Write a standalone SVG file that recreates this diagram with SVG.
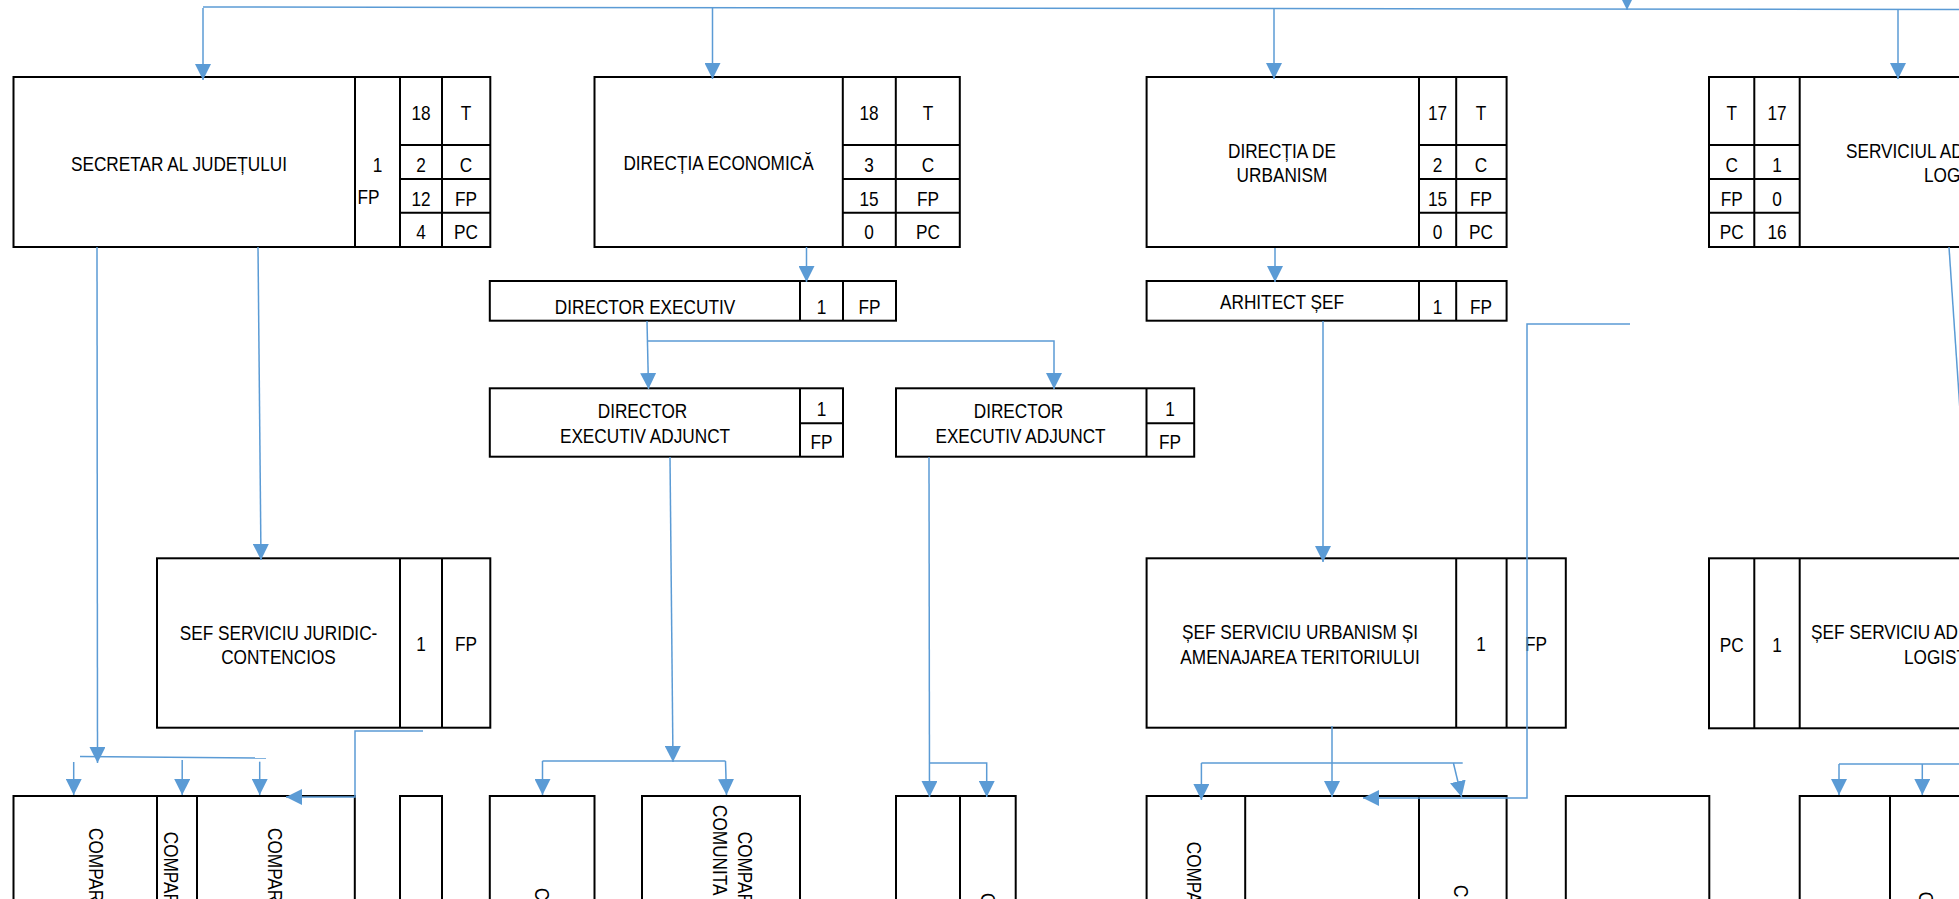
<svg xmlns="http://www.w3.org/2000/svg" width="1959" height="899" viewBox="0 0 1959 899">
<style>
.box{fill:#fff;stroke:#000;stroke-width:2}
.ln{stroke:#000;stroke-width:2;fill:none}
.t{font-family:'Liberation Sans',Arial,sans-serif;font-size:21px;fill:#000;text-anchor:middle}
.s{font-family:'Liberation Sans',Arial,sans-serif;font-size:21px;fill:#000;text-anchor:start}
.v{font-family:'Liberation Sans',Arial,sans-serif;font-size:21px;fill:#000}
.c{fill:none;stroke:#5B9BD5;stroke-width:1.5}
.a{marker-end:url(#ah)}
</style>
<defs>
<marker id="ah" markerUnits="userSpaceOnUse" markerWidth="16" markerHeight="16" viewBox="0 0 15 15" refX="15" refY="7.5" orient="auto">
<path d="M0,0 L15,7.5 L0,15 z" fill="#5B9BD5"/>
</marker>
</defs>
<rect width="1959" height="899" fill="#fff"/>

<g id="n-secretar">
<rect class="box" x="13.5" y="77" width="476.8" height="170"/>
<path class="ln" d="M355,77V247M400,77V247M442,77V247M400,145H490M400,179H490M400,212.7H490"/>
<text class="t" transform="translate(179 170.5) scale(0.82 1)">SECRETAR AL JUDEȚULUI</text>
<text class="t" transform="translate(377.5 172) scale(0.82 1)">1</text>
<text class="s" transform="translate(357.5 204) scale(0.82 1)">FP</text>
<text class="t" transform="translate(421 119.5) scale(0.82 1)">18</text>
<text class="t" transform="translate(466 119.5) scale(0.82 1)">T</text>
<text class="t" transform="translate(421 171.5) scale(0.82 1)">2</text>
<text class="t" transform="translate(466 171.5) scale(0.82 1)">C</text>
<text class="t" transform="translate(421 205.5) scale(0.82 1)">12</text>
<text class="t" transform="translate(466 205.5) scale(0.82 1)">FP</text>
<text class="t" transform="translate(421 239) scale(0.82 1)">4</text>
<text class="t" transform="translate(466 239) scale(0.82 1)">PC</text>
</g>

<g id="n-economica">
<rect class="box" x="594.5" y="77" width="365.3" height="170"/>
<path class="ln" d="M842.8,77V247M895.8,77V247M842.8,145H959.8M842.8,179H959.8M842.8,212.7H959.8"/>
<text class="t" transform="translate(718.5 170) scale(0.82 1)">DIRECȚIA ECONOMICĂ</text>
<text class="t" transform="translate(869 119.5) scale(0.82 1)">18</text>
<text class="t" transform="translate(928 119.5) scale(0.82 1)">T</text>
<text class="t" transform="translate(869 171.5) scale(0.82 1)">3</text>
<text class="t" transform="translate(928 171.5) scale(0.82 1)">C</text>
<text class="t" transform="translate(869 205.5) scale(0.82 1)">15</text>
<text class="t" transform="translate(928 205.5) scale(0.82 1)">FP</text>
<text class="t" transform="translate(869 239) scale(0.82 1)">0</text>
<text class="t" transform="translate(928 239) scale(0.82 1)">PC</text>
</g>

<g id="n-urbanism">
<rect class="box" x="1146.6" y="77" width="360" height="170"/>
<path class="ln" d="M1419,77V247M1456.2,77V247M1419,145H1506.6M1419,179H1506.6M1419,212.7H1506.6"/>
<text class="t" transform="translate(1282 158.3) scale(0.82 1)">DIRECȚIA DE</text>
<text class="t" transform="translate(1282 181.7) scale(0.82 1)">URBANISM</text>
<text class="t" transform="translate(1437.5 119.5) scale(0.82 1)">17</text>
<text class="t" transform="translate(1481 119.5) scale(0.82 1)">T</text>
<text class="t" transform="translate(1437.5 171.5) scale(0.82 1)">2</text>
<text class="t" transform="translate(1481 171.5) scale(0.82 1)">C</text>
<text class="t" transform="translate(1437.5 205.5) scale(0.82 1)">15</text>
<text class="t" transform="translate(1481 205.5) scale(0.82 1)">FP</text>
<text class="t" transform="translate(1437.5 239) scale(0.82 1)">0</text>
<text class="t" transform="translate(1481 239) scale(0.82 1)">PC</text>
</g>

<g id="n-serviciul-adm">
<rect class="box" x="1709" y="77" width="260" height="170"/>
<path class="ln" d="M1754.3,77V247M1799.7,77V247M1709,145H1799.7M1709,179H1799.7M1709,212.7H1799.7"/>
<text class="t" transform="translate(1731.7 119.5) scale(0.82 1)">T</text>
<text class="t" transform="translate(1777 119.5) scale(0.82 1)">17</text>
<text class="t" transform="translate(1731.7 171.5) scale(0.82 1)">C</text>
<text class="t" transform="translate(1777 171.5) scale(0.82 1)">1</text>
<text class="t" transform="translate(1731.7 205.5) scale(0.82 1)">FP</text>
<text class="t" transform="translate(1777 205.5) scale(0.82 1)">0</text>
<text class="t" transform="translate(1731.7 239) scale(0.82 1)">PC</text>
<text class="t" transform="translate(1777 239) scale(0.82 1)">16</text>
<text class="s" transform="translate(1846 158.3) scale(0.82 1)">SERVICIUL AD</text>
<text class="s" transform="translate(1924 181.7) scale(0.82 1)">LOG</text>
</g>

<g id="n-director-executiv">
<rect class="box" x="489.8" y="281" width="406.2" height="39.7"/>
<path class="ln" d="M800,281V320.7M843,281V320.7"/>
<text class="t" transform="translate(645 314) scale(0.82 1)">DIRECTOR EXECUTIV</text>
<text class="t" transform="translate(821.5 314) scale(0.82 1)">1</text>
<text class="t" transform="translate(869.5 314) scale(0.82 1)">FP</text>
</g>

<g id="n-dea1">
<rect class="box" x="489.8" y="388.3" width="353.2" height="68.4"/>
<path class="ln" d="M800,388.3V456.7M800,423.3H843"/>
<text class="t" transform="translate(642.5 418.3) scale(0.82 1)">DIRECTOR</text>
<text class="t" transform="translate(645 443.3) scale(0.82 1)">EXECUTIV ADJUNCT</text>
<text class="t" transform="translate(821.5 416) scale(0.82 1)">1</text>
<text class="t" transform="translate(821.5 449.3) scale(0.82 1)">FP</text>
</g>

<g id="n-dea2">
<rect class="box" x="896" y="388.3" width="298.2" height="68.4"/>
<path class="ln" d="M1146.5,388.3V456.7M1146.5,423.3H1194.2"/>
<text class="t" transform="translate(1018.5 418.3) scale(0.82 1)">DIRECTOR</text>
<text class="t" transform="translate(1020.5 443.3) scale(0.82 1)">EXECUTIV ADJUNCT</text>
<text class="t" transform="translate(1170 416) scale(0.82 1)">1</text>
<text class="t" transform="translate(1170 449.3) scale(0.82 1)">FP</text>
</g>

<g id="n-arhitect">
<rect class="box" x="1146.6" y="281" width="360" height="39.7"/>
<path class="ln" d="M1419,281V320.7M1456.2,281V320.7"/>
<text class="t" transform="translate(1282 309.3) scale(0.82 1)">ARHITECT ȘEF</text>
<text class="t" transform="translate(1437.5 314) scale(0.82 1)">1</text>
<text class="t" transform="translate(1481 314) scale(0.82 1)">FP</text>
</g>

<g id="n-sef-juridic">
<rect class="box" x="157" y="558.3" width="333.3" height="169.4"/>
<path class="ln" d="M400,558.3V727.7M442,558.3V727.7"/>
<text class="t" transform="translate(278.5 640) scale(0.82 1)">SEF SERVICIU JURIDIC-</text>
<text class="t" transform="translate(278.5 664.3) scale(0.82 1)">CONTENCIOS</text>
<text class="t" transform="translate(421 651) scale(0.82 1)">1</text>
<text class="t" transform="translate(466 651) scale(0.82 1)">FP</text>
</g>

<g id="n-sef-urbanism">
<rect class="box" x="1146.6" y="558.3" width="419.2" height="169.4"/>
<path class="ln" d="M1456.2,558.3V727.7M1506.6,558.3V727.7"/>
<text class="t" transform="translate(1300 639.3) scale(0.82 1)">ȘEF SERVICIU URBANISM ȘI</text>
<text class="t" transform="translate(1300 664) scale(0.82 1)">AMENAJAREA TERITORIULUI</text>
<text class="t" transform="translate(1481 651) scale(0.82 1)">1</text>
<text class="t" transform="translate(1536 651) scale(0.82 1)">FP</text>
</g>

<g id="n-sef-adm">
<rect class="box" x="1709" y="558.3" width="260" height="170"/>
<path class="ln" d="M1754.3,558.3V728.3M1799.7,558.3V728.3"/>
<text class="t" transform="translate(1731.7 651.7) scale(0.82 1)">PC</text>
<text class="t" transform="translate(1777 651.7) scale(0.82 1)">1</text>
<text class="s" transform="translate(1811 639.3) scale(0.82 1)">ȘEF SERVICIU AD</text>
<text class="s" transform="translate(1904 664) scale(0.82 1)">LOGIST</text>
</g>

<g id="n-bottom-juridic">
<rect class="box" x="13.5" y="796" width="341.3" height="120"/>
<path class="ln" d="M157,796V916M197,796V916"/>
<text class="v" transform="translate(89 828) rotate(90) scale(0.82 1)">COMPAR</text>
<text class="v" transform="translate(164 831.7) rotate(90) scale(0.82 1)">COMPAR</text>
<text class="v" transform="translate(268 828) rotate(90) scale(0.82 1)">COMPAR</text>
</g>
<g id="n-bottom-d">
<rect class="box" x="400" y="796" width="42" height="120"/>
</g>
<g id="n-bottom-e">
<rect class="box" x="489.8" y="796" width="104.7" height="120"/>
<text class="v" transform="translate(535 888) rotate(90) scale(0.82 1)">C</text>
</g>
<g id="n-bottom-f">
<rect class="box" x="642" y="796" width="158" height="120"/>
<text class="v" transform="translate(738 831.7) rotate(90) scale(0.82 1)">COMPAR</text>
<text class="v" transform="translate(712.5 805) rotate(90) scale(0.82 1)">COMUNITA</text>
</g>
<g id="n-bottom-g">
<rect class="box" x="896" y="796" width="119.7" height="120"/>
<path class="ln" d="M960,796V916"/>
<text class="v" transform="translate(980.5 893) rotate(90) scale(0.82 1)">C</text>
</g>
<g id="n-bottom-urb">
<rect class="box" x="1146.6" y="796" width="360" height="120"/>
<path class="ln" d="M1245.2,796V916M1419,796V916"/>
<text class="v" transform="translate(1187 841.7) rotate(90) scale(0.82 1)">COMPA</text>
<text class="v" transform="translate(1454 885) rotate(90) scale(0.82 1)">C</text>
</g>
<g id="n-bottom-h">
<rect class="box" x="1565.8" y="796" width="143.5" height="120"/>
</g>
<g id="n-bottom-adm">
<rect class="box" x="1799.7" y="796" width="170" height="120"/>
<path class="ln" d="M1890,796V916"/>
<text class="v" transform="translate(1918.5 891.7) rotate(90) scale(0.82 1)">C</text>
</g>

<g id="connectors">
<path class="c" d="M203,7 L1959,9.5"/>
<path class="c a" d="M1627,-20 L1627,10"/>
<path class="c a" d="M203,8 L203,80"/>
<path class="c a" d="M712.5,8 L712.5,79"/>
<path class="c a" d="M1274,9 L1274,79"/>
<path class="c a" d="M1898,9.5 L1898,79"/>
<path class="c a" d="M806.5,247 L806.5,282"/>
<path class="c a" d="M1275,248 L1275,282"/>
<path class="c a" d="M647,321 L648.5,389"/>
<path class="c a" d="M647,341 L1054,341 L1054,389"/>
<path class="c a" d="M670,457 L673,762"/>
<path class="c" d="M542.5,761 L725.5,761"/>
<path class="c a" d="M542.5,761 L542.5,795"/>
<path class="c a" d="M725.5,761 L726.5,795"/>
<path class="c a" d="M929,457 L929.5,797"/>
<path class="c a" d="M929.5,763 L986.7,763 L986.7,797"/>
<path class="c a" d="M1323,321 L1323,562"/>
<path class="c a" d="M1630,324 L1527,324 L1527,798 L1363,798"/>
<path class="c a" d="M1332,726 L1332,797"/>
<path class="c" d="M1201.4,763 L1462.7,763"/>
<path class="c a" d="M1201.4,763 L1201.4,800"/>
<path class="c a" d="M1453.4,763 L1461.6,797"/>
<path class="c a" d="M97,247 L97.5,763"/>
<path class="c" d="M80,756.5 L266,758"/>
<path class="c a" d="M73.7,762 L73.7,795"/>
<path class="c a" d="M182.2,760 L182.2,795"/>
<path class="c a" d="M259.7,761.7 L259.7,795"/>
<path class="c a" d="M258,247 L261,560"/>
<path class="c a" d="M423,731 L355,731 L355,797 L286,797"/>
<path class="c" d="M1949,247 L1962,440"/>
<path class="c" d="M1839,764 L1962,764"/>
<path class="c a" d="M1839,764 L1839,795"/>
<path class="c a" d="M1922.3,764 L1922.3,795"/>
</g>
</svg>
